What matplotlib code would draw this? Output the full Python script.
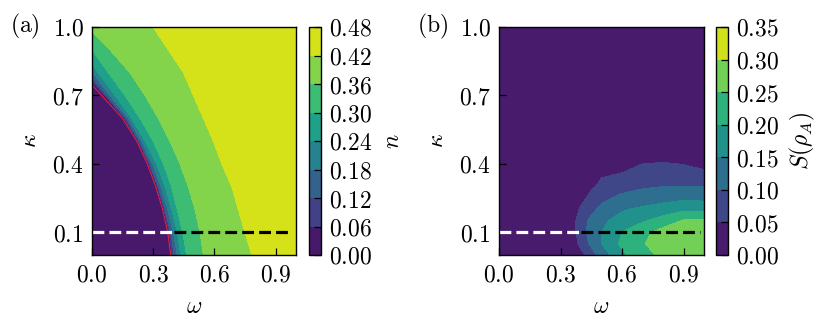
import numpy as np
import matplotlib
matplotlib.use("Agg")
import matplotlib.pyplot as plt

plt.rcParams["mathtext.fontset"] = "cm"
plt.rcParams["font.family"] = "serif"
plt.rcParams["font.serif"] = ["DejaVu Serif"]

# ---------------------------------------------------------------
# (a) ocupacion n: posicion (omega) de cada frontera de contorno, por fila de kappa
kappa_a = [0.0, 0.1, 0.2, 0.3, 0.4, 0.5, 0.6, 0.7, 0.8, 0.9, 1.0]
omega_red = [0.386, 0.371, 0.346, 0.312, 0.271, 0.219, 0.149, 0.047, -0.055, -0.16, -0.26]
edge_006 = [0.392, 0.379, 0.353, 0.320, 0.279, 0.227, 0.158, 0.064, -0.043, -0.15, -0.25]
edge_012 = [0.402, 0.386, 0.358, 0.325, 0.284, 0.232, 0.167, 0.072, -0.018, -0.11, -0.20]
edge_018 = [0.418, 0.399, 0.371, 0.338, 0.297, 0.243, 0.178, 0.088, 0.003, -0.08, -0.17]
edge_024 = [0.435, 0.418, 0.390, 0.358, 0.317, 0.260, 0.194, 0.113, 0.030, -0.045, -0.12]
edge_030 = [0.464, 0.444, 0.418, 0.390, 0.350, 0.300, 0.235, 0.162, 0.080, 0.0, -0.07]
edge_036 = [0.546, 0.530, 0.505, 0.472, 0.431, 0.382, 0.325, 0.260, 0.186, 0.088, -0.02]
edge_042 = [0.783, 0.750, 0.717, 0.685, 0.636, 0.595, 0.546, 0.497, 0.448, 0.374, 0.300]
n_edges = [0.0, 0.06, 0.12, 0.18, 0.24, 0.30, 0.36, 0.42, 0.45]
levels_a = [0.0, 0.06, 0.12, 0.18, 0.24, 0.30, 0.36, 0.42, 0.48]

# (b) entropia S(rho_A) en una malla
omega_b = [0.0, 0.35, 0.40, 0.45, 0.50, 0.60, 0.70, 0.80, 0.90, 1.00]
kappa_b = [0.0, 0.05, 0.10, 0.15, 0.20, 0.25, 0.30, 0.35, 0.40, 0.45, 1.0]
S_b = [
    [0, 0, 0.03, 0.08, 0.12, 0.19, 0.235, 0.26, 0.265, 0.265],
    [0, 0, 0.07, 0.11, 0.15, 0.21, 0.245, 0.28, 0.285, 0.285],
    [0, 0.02, 0.08, 0.12, 0.15, 0.20, 0.235, 0.27, 0.28, 0.28],
    [0, 0.02, 0.08, 0.11, 0.14, 0.17, 0.195, 0.22, 0.255, 0.255],
    [0, 0.01, 0.06, 0.09, 0.11, 0.145, 0.16, 0.175, 0.19, 0.19],
    [0, 0, 0.03, 0.07, 0.09, 0.11, 0.12, 0.13, 0.14, 0.135],
    [0, 0, 0, 0.04, 0.065, 0.085, 0.095, 0.10, 0.10, 0.10],
    [0, 0, 0, 0.01, 0.045, 0.055, 0.065, 0.07, 0.07, 0.065],
    [0, 0, 0, 0, 0, 0.03, 0.05, 0.055, 0.048, 0.035],
    [0, 0, 0, 0, 0, 0, 0, 0.01, 0.01, 0],
    [0, 0, 0, 0, 0, 0, 0, 0, 0, 0],
]
levels_b = [0.0, 0.05, 0.10, 0.15, 0.20, 0.25, 0.30, 0.35]

# linea de corte kappa = 0.1
kappa_cut = 0.1
omega_split = 0.4
omega_end = 0.98

ticks = [0.0, 0.3, 0.6, 0.9]
yticks = [0.1, 0.4, 0.7, 1.0]

# ---------------------------------------------------------------
fs = 17
W, H = 831, 322
fig = plt.figure(figsize=(W / 100, H / 100), dpi=100)
ax_a = fig.add_axes([92 / W, 67 / H, 204 / W, 228 / H])
cax_a = fig.add_axes([309 / W, 67 / H, 12 / W, 228 / H])
ax_b = fig.add_axes([499 / W, 67 / H, 205 / W, 228 / H])
cax_b = fig.add_axes([716 / W, 67 / H, 12 / W, 228 / H])

# panel (a)
ka = np.array(kappa_a)
cols = [np.full(len(ka), -1.0), edge_006, edge_012, edge_018, edge_024,
        edge_030, edge_036, edge_042, np.full(len(ka), 1.2)]
Wa = np.column_stack(cols)
Ka = np.repeat(ka[:, None], Wa.shape[1], axis=1)
Za = np.tile(n_edges, (len(ka), 1))
cf_a = ax_a.contourf(Wa, Ka, Za, levels=levels_a, cmap="viridis")
ax_a.plot(omega_red, kappa_a, color="#f0203c", lw=0.7)

# panel (b)
Wb, Kb = np.meshgrid(omega_b, kappa_b)
cf_b = ax_b.contourf(Wb, Kb, np.array(S_b), levels=levels_b, cmap="viridis")

for ax, cf, cax, lev, lab, tag in [(ax_a, cf_a, cax_a, levels_a, r"$n$", "(a)"),
                                   (ax_b, cf_b, cax_b, levels_b, r"$S(\rho_A)$", "(b)")]:
    ax.plot([0, omega_split], [kappa_cut, kappa_cut], color="white", ls="--", lw=2.3)
    ax.plot([omega_split, omega_end], [kappa_cut, kappa_cut], color="black", ls="--", lw=2.3)
    ax.set_xlim(0, 1)
    ax.set_ylim(0, 1)
    ax.set_xticks(ticks)
    ax.set_xticklabels([f"${t:.1f}$" for t in ticks])
    ax.set_yticks(yticks)
    ax.set_yticklabels([f"${t:.1f}$" for t in yticks])
    ax.tick_params(direction="in", length=5, width=0.9, labelsize=fs, pad=6)
    ax.set_xlabel(r"$\omega$", fontsize=fs, labelpad=6)
    ax.set_ylabel(r"$\kappa$", fontsize=fs, labelpad=8)
    for s in ax.spines.values():
        s.set_linewidth(1.0)

    cb = fig.colorbar(cf, cax=cax, ticks=lev)
    cb.ax.set_yticklabels([f"${v:.2f}$" for v in lev])
    cb.ax.tick_params(direction="in", length=5, width=0.9, labelsize=fs, pad=6)
    cb.outline.set_linewidth(1.0)
    cb.set_label(lab, fontsize=fs, labelpad=6)

    pos = ax.get_position()
    fig.text(pos.x0 - 82 / W, pos.y1 + 1 / H, r"$\mathrm{" + tag + "}$", fontsize=fs,
             ha="left", va="center")

fig.savefig("out.png", dpi=100)
